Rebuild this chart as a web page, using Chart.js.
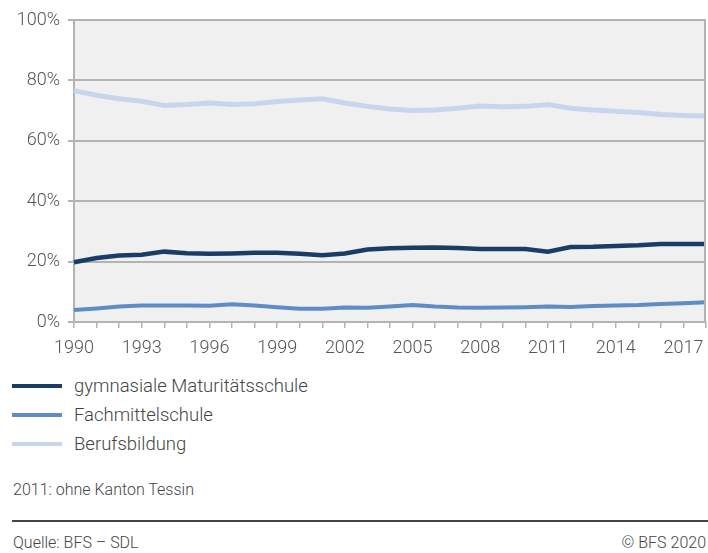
<!DOCTYPE html>
<html>
<head>
<meta charset="utf-8">
<script src="https://cdn.jsdelivr.net/npm/chart.js@4.4.1/dist/chart.umd.min.js"></script>
<style>
  body { margin: 0; background: #fff; font-family: Roboto, "Noto Sans", sans-serif; color: #444; }
  #wrap { position: relative; width: 708px; height: 553px; overflow: hidden; }
  #chart-box { position: absolute; left: 0; top: 0; width: 708px; height: 360px; }
  .legend-row { position: absolute; left: 12px; height: 22px; display: flex; align-items: center; font-size: 18.5px; font-weight: 300; }
  .legend-row span.swatch { display: inline-block; width: 50px; height: 4px; margin-right: 12px; }
  .note { position: absolute; left: 13px; font-size: 16px; font-weight: 300; color: #444; }
  .rule { position: absolute; left: 12px; right: 0; top: 520px; height: 0; border-top: 2px solid #444; }
</style>
</head>
<body>
<div id="wrap">
  <div id="chart-box"><canvas id="line-chart"></canvas></div>
  <div id="legend"></div>
  <div class="note" style="top:480px">2011: ohne Kanton Tessin</div>
  <div class="rule"></div>
  <div class="note" style="top:533px">Quelle: BFS – SDL</div>
  <div class="note" style="top:533px; left:auto; right:2px">© BFS 2020</div>
</div>
<script>
const years = [1990, 1991, 1992, 1993, 1994, 1995, 1996, 1997, 1998, 1999,
  2000, 2001, 2002, 2003, 2004, 2005, 2006, 2007, 2008, 2009,
  2010, 2011, 2012, 2013, 2014, 2015, 2016, 2017, 2018];

const gymnasiale = [19.8, 21.2, 22.0, 22.3, 23.3, 22.8, 22.6, 22.7, 22.9, 22.9,
  22.6, 22.1, 22.7, 24.0, 24.4, 24.6, 24.7, 24.5, 24.2, 24.2,
  24.2, 23.3, 24.8, 24.9, 25.2, 25.4, 25.8, 25.8, 25.8];

const fachmittel = [4.0, 4.5, 5.1, 5.5, 5.5, 5.5, 5.4, 5.9, 5.5, 4.9,
  4.4, 4.4, 4.8, 4.7, 5.1, 5.6, 5.1, 4.8, 4.7, 4.8,
  4.9, 5.1, 5.0, 5.3, 5.5, 5.6, 6.0, 6.2, 6.5];

const berufsbildung = [76.6, 75.1, 73.9, 73.1, 71.7, 72.0, 72.5, 72.0, 72.3, 73.0,
  73.5, 73.9, 72.5, 71.4, 70.5, 70.0, 70.2, 70.8, 71.5, 71.3,
  71.4, 72.0, 70.8, 70.2, 69.8, 69.4, 68.7, 68.4, 68.2];

const yTicks = [0, 20, 40, 60, 80, 100];

const series = [
  { label: 'gymnasiale Maturitätsschule', data: gymnasiale, color: '#1a3d68', width: 4.5 },
  { label: 'Fachmittelschule', data: fachmittel, color: '#5f8bc6', width: 4 },
  { label: 'Berufsbildung', data: berufsbildung, color: '#c7d6ee', width: 5 }
];

// grey plot background + right border
const plotBackground = {
  id: 'plotBackground',
  beforeDraw(chart) {
    const { ctx, chartArea: a } = chart;
    ctx.save();
    ctx.fillStyle = '#f0f0f0';
    ctx.fillRect(a.left, a.top, a.right - a.left, a.bottom - a.top);
    ctx.restore();
  },
  afterDatasetsDraw(chart) {
    const { ctx, chartArea: a } = chart;
    ctx.save();
    ctx.strokeStyle = '#b3b3b3';
    ctx.lineWidth = 2;
    ctx.beginPath();
    ctx.moveTo(a.right - 1, a.top);
    ctx.lineTo(a.right - 1, a.bottom);
    ctx.stroke();
    ctx.restore();
  }
};

const tickFont = { family: 'Roboto', size: 18, weight: '300' };

new Chart(document.getElementById('line-chart'), {
  type: 'line',
  data: {
    labels: years,
    datasets: series.map(s => ({
      label: s.label,
      data: s.data,
      borderColor: s.color,
      backgroundColor: s.color,
      borderWidth: s.width,
      pointRadius: 0,
      tension: 0,
      fill: false
    })).reverse()
  },
  options: {
    responsive: true,
    maintainAspectRatio: false,
    animation: false,
    events: [],
    layout: { padding: { top: 20, right: 2, left: 0, bottom: 0 } },
    plugins: {
      legend: { display: false },
      tooltip: { enabled: false }
    },
    scales: {
      x: {
        type: 'category',
        offset: false,
        grid: { drawOnChartArea: false, drawTicks: true, tickLength: 6, color: '#b3b3b3', lineWidth: 1.5 },
        border: { color: '#b3b3b3', width: 2 },
        ticks: {
          autoSkip: false,
          maxRotation: 0,
          padding: 10,
          color: '#555',
          font: tickFont,
          callback: function(value, index) {
            const y = years[index];
            return (y - 1990) % 3 === 0 ? String(y) : '';
          }
        },
        afterFit: scale => {
          scale.height = 38;
          scale.paddingLeft = 0;
          scale.paddingRight = 0;
        }
      },
      y: {
        min: 0,
        max: 100,
        afterBuildTicks: scale => { scale.ticks = yTicks.map(v => ({ value: v })); },
        grid: { color: '#b3b3b3', lineWidth: 2, tickLength: 6 },
        border: { color: '#b3b3b3', width: 2 },
        ticks: {
          padding: 8,
          color: '#555',
          font: tickFont,
          callback: v => v + '%'
        },
        afterFit: scale => { scale.width = 74; }
      }
    }
  },
  plugins: [plotBackground]
});

// legend rows under the chart
const legendTops = [375, 404, 433];
const legend = document.getElementById('legend');
series.forEach((s, i) => {
  const row = document.createElement('div');
  row.className = 'legend-row';
  row.style.top = legendTops[i] + 'px';
  row.innerHTML = `<span class="swatch" style="background:${s.color}"></span>${s.label}`;
  legend.appendChild(row);
});
</script>
</body>
</html>
